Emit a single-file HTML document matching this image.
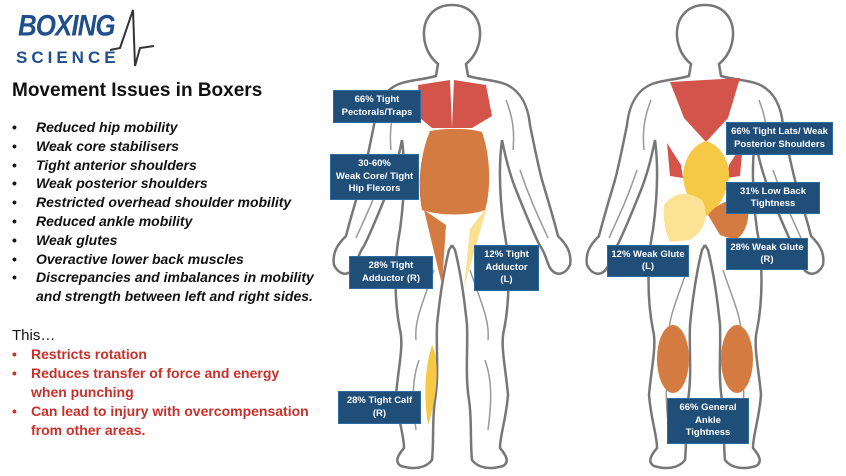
<!DOCTYPE html>
<html><head><meta charset="utf-8"><style>
body{margin:0;width:846px;height:476px;background:#fff;position:relative;overflow:hidden;font-family:"Liberation Sans",sans-serif}
.lbl{position:absolute;background:#1f4e79;color:#fff;font-weight:bold;font-size:9.5px;line-height:12.5px;text-align:center;display:flex;align-items:center;justify-content:center;border:1px solid #2d6aa0;box-sizing:border-box}
.list{position:absolute;left:12px;top:118px;font-size:14px;font-style:italic;font-weight:bold;line-height:18.8px;color:#111}
.list div{position:relative;padding-left:24px}
.list div:before{content:"•";position:absolute;left:0;font-style:normal}
.red{position:absolute;left:12px;top:345px;font-size:14px;font-weight:bold;line-height:19px;color:#c8302a}
.red div{position:relative;padding-left:19px}
.red div:before{content:"•";position:absolute;left:0}
</style></head><body>
<div style="position:absolute;left:18px;top:10px;font-size:26px;font-weight:bold;font-style:italic;color:#1f4e8c;letter-spacing:-1px;transform:scaleY(1.15)">BOXING</div>
<div style="position:absolute;left:16px;top:48px;font-size:17px;font-weight:bold;color:#1f4e8c;letter-spacing:4px">SCIENCE</div>
<svg style="position:absolute;left:0;top:0" width="160" height="70"><polyline points="110,50 120,48 133,10 135,66 140,48 154,46" fill="none" stroke="#333" stroke-width="2"/></svg>
<div style="position:absolute;left:12px;top:80px;font-size:19px;font-weight:bold;color:#111">Movement Issues in Boxers</div>
<div class="list">
<div>Reduced hip mobility</div><div>Weak core stabilisers</div><div>Tight anterior shoulders</div><div>Weak posterior shoulders</div><div>Restricted overhead shoulder mobility</div><div>Reduced ankle mobility</div><div>Weak glutes</div><div>Overactive lower back muscles</div><div>Discrepancies and imbalances in mobility<br>and strength between left and right sides.</div>
</div>
<div style="position:absolute;left:12px;top:327px;font-size:15px;color:#111">This…</div>
<div class="red"><div>Restricts rotation</div><div>Reduces transfer of force and energy<br>when punching</div><div>Can lead to injury with overcompensation<br>from other areas.</div></div>

<svg style="position:absolute;left:0;top:0" width="846" height="476">
<defs>
<path id="half" d="M452,5 C470,5 481,18 480,36 C479,50 472,59 466,64 L468,76 C482,80 495,80 505,84 C520,90 528,105 530,125 C534,145 538,165 542,180 C548,200 554,220 558,236 C566,244 572,252 570,265 C565,275 556,277 550,268 C546,260 545,252 540,246 C532,230 524,210 516,190 C510,175 506,160 502,140 C498,170 500,200 504,230 C510,260 510,300 504,330 C500,345 506,370 508,395 C506,420 500,435 500,448 C506,455 510,462 503,466 C490,470 478,468 472,460 C470,440 472,420 469,400 C465,375 468,350 467,325 C464,295 460,270 455,250 L452,245" fill="none" stroke="#777" stroke-width="2.5"/>
<path id="inner" d="M506,100 C512,115 515,130 513,150 M520,170 C530,200 540,220 548,238 M470,270 C480,300 490,320 488,340 M485,360 C492,380 492,400 488,430" fill="none" stroke="#999" stroke-width="1.5"/>
</defs>
<use href="#half"/><use href="#half" transform="translate(904,0) scale(-1,1)"/>
<use href="#half" transform="translate(253,0)"/><use href="#half" transform="translate(1157,0) scale(-1,1)"/>
<use href="#inner"/><use href="#inner" transform="translate(904,0) scale(-1,1)"/>
<use href="#inner" transform="translate(253,0)"/><use href="#inner" transform="translate(1157,0) scale(-1,1)"/>
<path d="M418,85 L450,80 L452,128 L432,128 L420,118 Z" fill="#d2544a"/>
<path d="M486,85 L454,80 L452,128 L472,128 L492,116 Z" fill="#d2544a"/>
<path d="M430,131 C445,128 470,128 482,132 C492,160 490,195 485,210 C470,216 440,216 422,210 C417,185 420,155 430,131 Z" fill="#d47b42"/>
<path d="M424,210 L446,225 L442,285 Z" fill="#d47b42"/>
<path d="M487,207 L470,229 L464,287 Z" fill="#fbe090"/>
<path d="M432,345 C440,360 437,400 428,425 C424,400 424,370 432,345 Z" fill="#f7c844"/>
<path d="M670,82 L740,78 L728,118 L706,142 L684,118 Z" fill="#d2544a"/>
<path d="M667,143 L681,165 L683,178 L670,176 Z" fill="#d2544a"/>
<path d="M743,143 L729,165 L727,178 L740,176 Z" fill="#d2544a"/>
<path d="M706,141 C720,145 730,160 729,178 C725,200 716,210 706,216 C696,210 686,200 683,178 C683,160 692,145 706,141 Z" fill="#f5c845"/>
<path d="M664,205 C675,190 690,192 702,200 C710,215 705,230 690,240 L670,242 C664,230 663,215 664,205 Z" fill="#fbe295"/>
<path d="M708,215 C720,200 740,195 748,205 C750,220 745,235 735,240 L720,235 Z" fill="#d47b42"/>
<ellipse cx="673" cy="359" rx="16" ry="34" fill="#d47b42"/>
<ellipse cx="737" cy="359" rx="16" ry="34" fill="#d47b42"/>
</svg>

<div class="lbl" style="left:333px;top:90px;width:88px;height:33px">66% Tight<br>Pectorals/Traps</div>
<div class="lbl" style="left:330px;top:154px;width:89px;height:46px">30-60%<br>Weak Core/ Tight<br>Hip Flexors</div>
<div class="lbl" style="left:349px;top:256px;width:84px;height:33px">28% Tight<br>Adductor (R)</div>
<div class="lbl" style="left:474px;top:245px;width:65px;height:46px">12% Tight<br>Adductor<br>(L)</div>
<div class="lbl" style="left:726px;top:122px;width:107px;height:33px">66% Tight Lats/ Weak<br>Posterior Shoulders</div>
<div class="lbl" style="left:726px;top:182px;width:94px;height:32px">31% Low Back<br>Tightness</div>
<div class="lbl" style="left:607px;top:245px;width:82px;height:32px">12% Weak Glute<br>(L)</div>
<div class="lbl" style="left:726px;top:238px;width:82px;height:32px">28% Weak Glute<br>(R)</div>
<div class="lbl" style="left:338px;top:391px;width:83px;height:33px">28% Tight Calf<br>(R)</div>
<div class="lbl" style="left:667px;top:398px;width:82px;height:46px">66% General<br>Ankle<br>Tightness</div>
</body></html>
